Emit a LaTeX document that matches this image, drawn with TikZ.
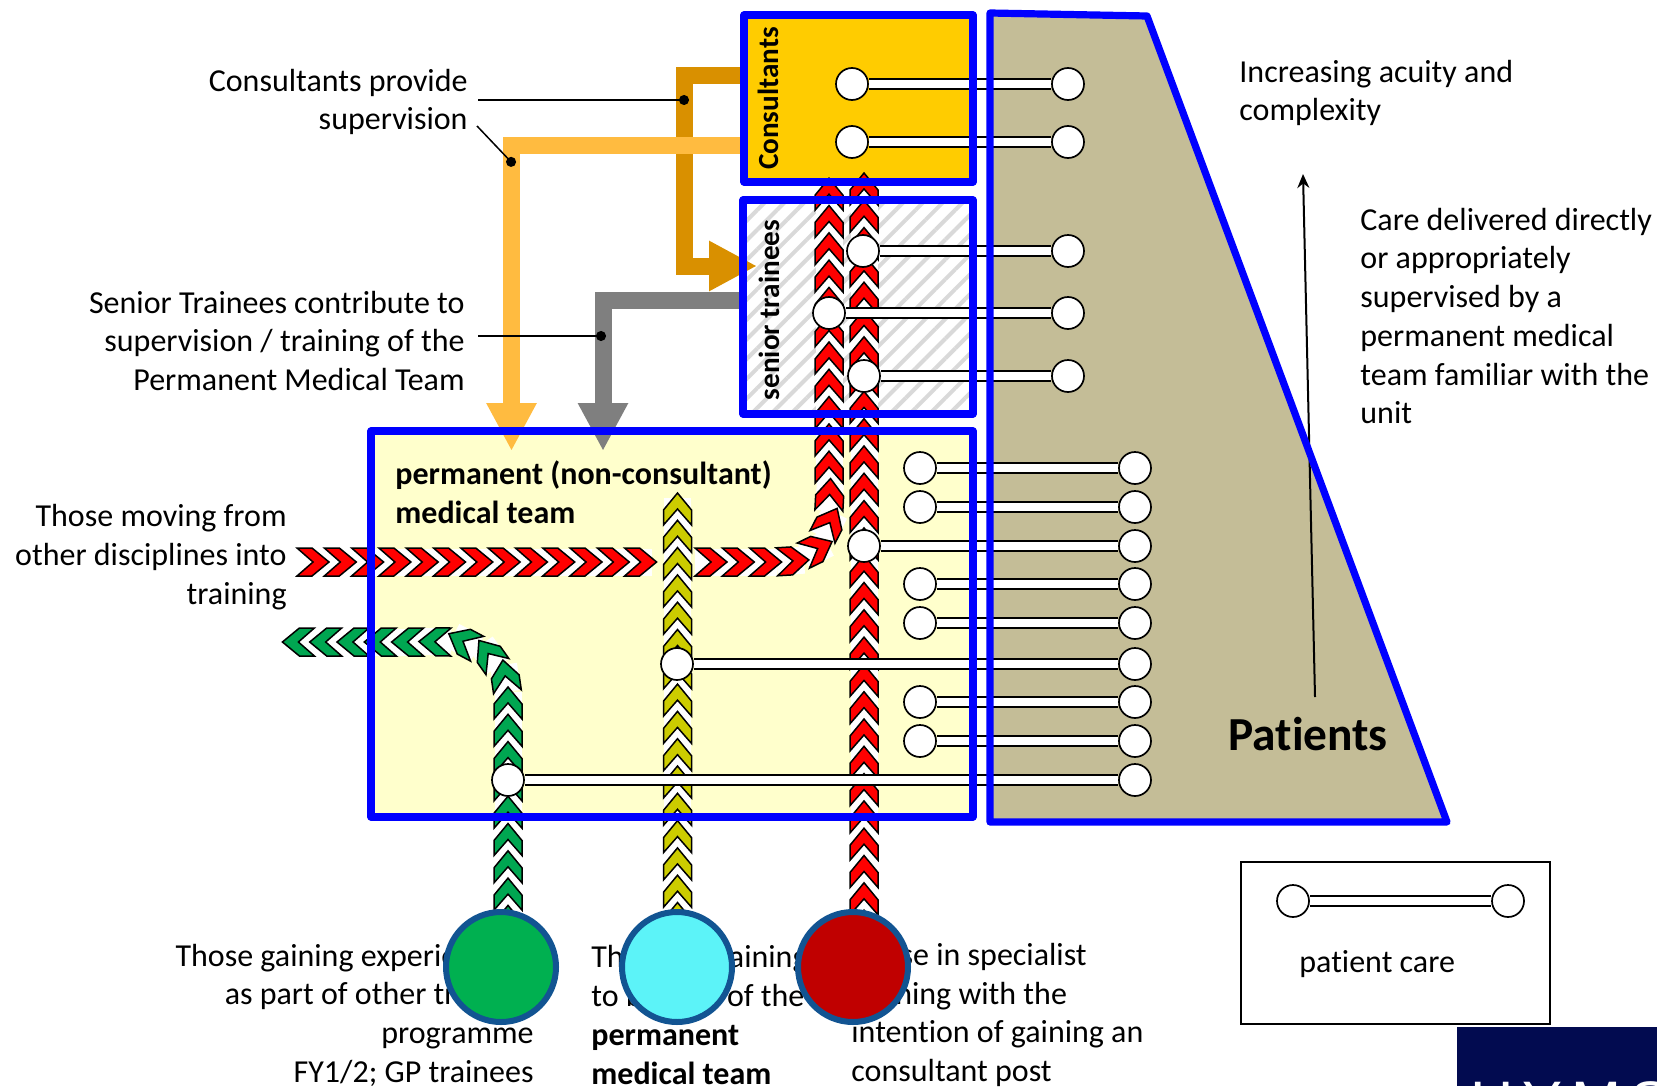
\documentclass[tikz,border=0pt]{standalone}
\usepackage{fontspec}
\setmainfont{Carlito}[Ligatures=NoCommon]
\newfontfamily\logofont{Liberation Sans}[LetterSpace=15]
\usetikzlibrary{arrows.meta,decorations.markings,patterns.meta}

\definecolor{boxblue}{RGB}{0,0,255}
\definecolor{ringblue}{RGB}{18,84,146}
\definecolor{patientfill}{RGB}{196,189,151}
\definecolor{consfill}{RGB}{255,204,0}
\definecolor{permfill}{RGB}{255,255,204}
\definecolor{darkamber}{RGB}{217,144,0}
\definecolor{lightamber}{RGB}{255,187,64}
\definecolor{midgrey}{RGB}{127,127,127}
\definecolor{chevyellow}{RGB}{204,204,0}
\definecolor{chevgreen}{RGB}{0,166,81}
\definecolor{discgreen}{RGB}{0,176,80}
\definecolor{disccyan}{RGB}{92,243,248}
\definecolor{discred}{RGB}{192,0,0}
\definecolor{logonavy}{RGB}{2,11,80}

\begin{document}
\begin{tikzpicture}[x=0.5pt,y=-0.5pt]

%
% Styles
%
\tikzset{
  bodytext/.style={inner sep=0pt,font=\fontsize{16}{19.35}\selectfont},
  boldtext/.style={inner sep=0pt,font=\fontsize{16}{19.35}\selectfont\bfseries},
  bluebox/.style={draw=boxblue,line width=3.6pt,line join=round},
  carenode/.style={circle,draw=black,fill=white,line width=0.85pt,minimum size=16pt,inner sep=0pt},
  careline/.style={draw=black,double=white,double distance=4pt,line width=1pt},
  bigdisc/.style={circle,draw=ringblue,line width=3pt,minimum size=55pt,inner sep=0pt},
  feed/.style={line width=8.5pt,-{Triangle[width=23.5pt,length=24pt]}},
  callout/.style={draw=black,line width=0.75pt,-{Circle[length=5pt]}},
  chevrons/.style={
    postaction={decorate,decoration={markings,mark=between positions 0 and -16pt step 13.65pt with
      {\fill[white] (0,-13.5) rectangle (27.3,13.5);}}},
    postaction={decorate,decoration={markings,mark=between positions 0 and -16pt step 13.65pt with
      {\draw[draw=black,fill=#1,line width=0.75pt]
        (32,0) -- (15,14) -- (0,14) -- (16,0) -- (0,-14) -- (15,-14) -- cycle;}}}}
}

\useasboundingbox (0,0) rectangle (1657,1086);

%
% Areas
%
\coordinate (consNW) at (744,15);
\coordinate (consSE) at (973,182);
\coordinate (seniorNW) at (743,200);
\coordinate (seniorSE) at (973,414);
\coordinate (permNW) at (371,431);
\coordinate (permSE) at (973,817);
\coordinate (patA) at (990,13);
\coordinate (patB) at (1147,16);
\coordinate (patC) at (1447,822);
\coordinate (patD) at (990,822);

\fill[patientfill] (patA) -- (patB) -- (patC) -- (patD) -- cycle;
\fill[consfill] (consNW) rectangle (consSE);
\fill[permfill] (permNW) rectangle (permSE);
\path[pattern={Lines[angle=45,distance=7pt,line width=2pt]},pattern color=black!15] (seniorNW) rectangle (seniorSE);

%
% Flows
%
\coordinate (greenbase) at (508,937.4);
\coordinate (greenup) at (508,700);
\coordinate (greenleft) at (450,642);
\coordinate (greenend) at (270,642);
\coordinate (yellowbase) at (677.5,961.8);
\coordinate (yellowend) at (677.5,490);
\coordinate (redbase) at (864,969.4);
\coordinate (redendA) at (829,160);
\coordinate (redendB) at (864,170);
\coordinate (movestart) at (297,562);
\coordinate (moveend) at (662,562);
\coordinate (moveon) at (695,562);
\coordinate (movebend) at (770,562);
\coordinate (moveup) at (829,505);

\path[chevrons=chevgreen] (greenbase) -- (greenup) .. controls (508,668) and (482,642) .. (greenleft) -- (greenend);
\path[chevrons=chevyellow] (yellowbase) -- (yellowend);
\path[chevrons=red] (redbase) -- (redendB);
\path[chevrons=red] (movestart) -- (moveend);
\path[chevrons=red] (moveon) -- (movebend) .. controls (808,562) and (829,545) .. (moveup) -- (redendA);

%
% Patient care
%
\foreach \i/\xl/\xr/\y in {1/852/1068/84,2/852/1068/142,3/863/1068/251,4/829/1068/313,5/864/1068/376,
  6/920/1135/468,7/920/1135/507,8/864/1135/546,9/920/1135/584,10/920/1135/623,11/677/1135/664,
  12/920/1135/702,13/920/1135/741,14/508/1135/780,15/1293/1508/901}
{
  \node[carenode] (left\i) at (\xl,\y) {};
  \node[carenode] (right\i) at (\xr,\y) {};
  \draw[careline] (left\i) -- (right\i);
}

%
% Supervision feeds
%
\coordinate (darkstart) at (744,76);
\coordinate (darkcorner) at (684,266);
\coordinate (darktip) at (757,266);
\coordinate (lightstart) at (744,145);
\coordinate (lightcorner) at (511.5,145);
\coordinate (lighttip) at (511.5,451);
\coordinate (greystart) at (743,300);
\coordinate (greycorner) at (603,300);
\coordinate (greytip) at (603,451);
\coordinate (acuitybase) at (1315,697);
\coordinate (acuitytip) at (1303,174);

\draw[feed,draw=midgrey] (greystart) -- (greycorner) -- (greytip);
\draw[feed,draw=darkamber] (darkstart) -| (darkcorner) -- (darktip);
\draw[feed,draw=lightamber] (lightstart) -- (lightcorner) -- (lighttip);
\draw[line width=1pt,-{Stealth[length=7pt,width=6pt]}] (acuitybase) -- (acuitytip);

%
% Borders
%
\draw[bluebox] (patA) -- (patB) -- (patC) -- (patD) -- cycle;
\draw[bluebox] (consNW) rectangle (consSE);
\draw[bluebox] (seniorNW) rectangle (seniorSE);
\draw[bluebox] (permNW) rectangle (permSE);

%
% Labels
%
\node[boldtext,rotate=90,font=\fontsize{14.6}{18}\selectfont\bfseries] (conslabel) at (768,98.5) {Consultants};
\node[boldtext,rotate=90,font=\fontsize{14.6}{18}\selectfont\bfseries] (seniorlabel) at (769,310) {senior trainees};
\node[boldtext,anchor=west,align=left] (permlabel) at (395,492.5) {permanent (non-consultant)\\medical team};
\node[bodytext,anchor=east,align=right] (superlabel) at (468,102) {Consultants provide\\supervision};
\node[bodytext,anchor=east,align=right] (trainlabel) at (465,341) {Senior Trainees contribute to\\supervision / training of the\\Permanent Medical Team};
\node[bodytext,anchor=east,align=right] (movelabel) at (287,557) {Those moving from\\other disciplines into\\training};
\node[bodytext,anchor=west,align=left] (acuitylabel) at (1239,93) {Increasing acuity and\\complexity};
\node[bodytext,anchor=west,align=left] (directlabel) at (1360,316) {Care delivered directly\\or appropriately\\supervised by a\\permanent medical\\team familiar with the\\unit};
\node[inner sep=0pt,font=\fontsize{23.7}{28}\selectfont\bfseries] (patients) at (1308,734) {Patients};

\coordinate (dotdark) at (689,100);
\coordinate (lightfrom) at (477,126);
\coordinate (dotlight) at (514.5,165.5);
\coordinate (dotgrey) at (606,336);

\draw[callout] (478,100) -- (dotdark);
\draw[callout] (lightfrom) -- (dotlight);
\draw[callout] (478,336) -- (dotgrey);

%
% Big discs and labels beneath them
%
\node[bodytext,anchor=east,align=right] (gainlabel) at (534,1015) {Those gaining experience\hspace*{15pt}\\as part of other training\\programme\\FY1/2; GP trainees};
\node[bodytext,anchor=west,align=left] (joinlabel) at (591,1015) {Those in training\\to be part of the\\\textbf{permanent}\\\textbf{medical team}};
\node[bodytext,anchor=west,align=left] (speclabel) at (851,1015) {Those in specialist\\training with the\\intention of gaining an\\consultant post};

\node[bigdisc,fill=discgreen] (greendisc) at (501,967) {};
\node[bigdisc,fill=disccyan] (cyandisc) at (677,967) {};
\node[bigdisc,fill=discred] (reddisc) at (853,967) {};

%
% Key and corner block
%
\node[draw=black,line width=0.9pt,minimum width=154.5pt,minimum height=81pt,inner sep=0pt] (keybox) at (1395.5,943) {};
\node[bodytext,anchor=west] (keylabel) at (1299,964) {patient care};
\node[fill=logonavy,minimum width=100pt,minimum height=29.5pt,inner sep=0pt] (logoblock) at (1557,1056.5) {};
\node[inner sep=0pt,anchor=base west,text=white,font=\fontsize{30}{30}\logofont] (logotext) at (1470,1123) {HYMS};

\end{tikzpicture}
\end{document}
